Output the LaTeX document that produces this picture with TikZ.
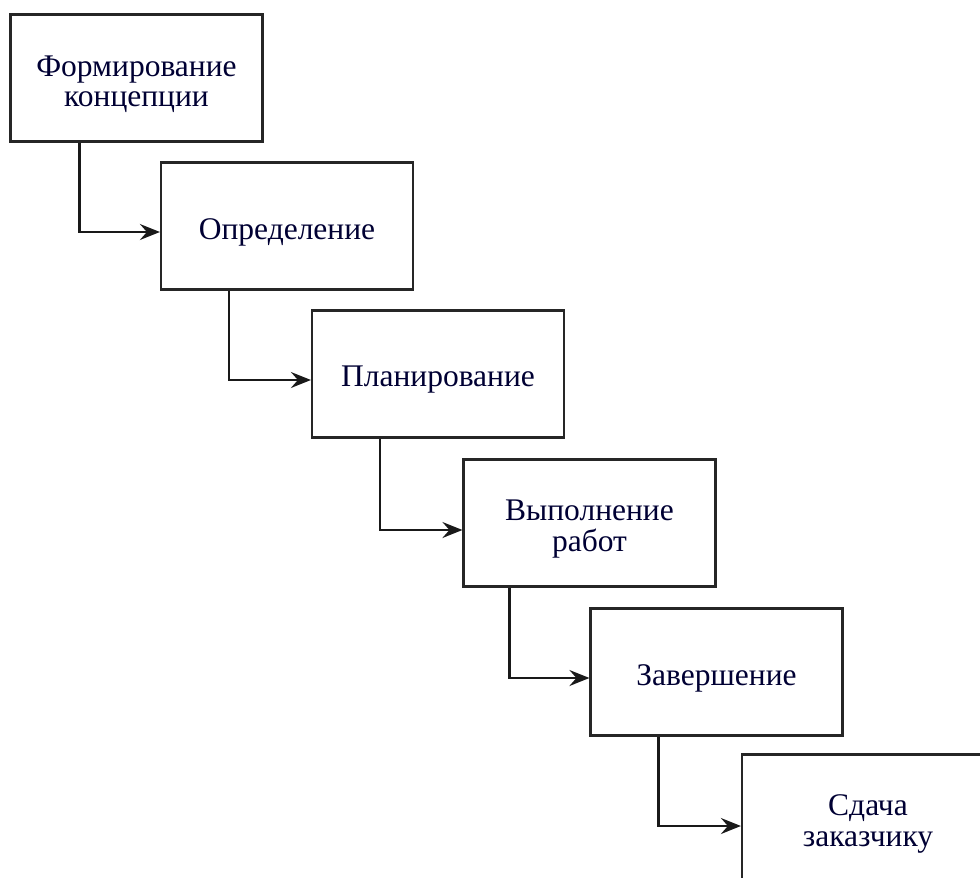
\documentclass[tikz,border=0pt]{standalone}
\usepackage{fontspec}
\setmainfont{Liberation Serif}
\usetikzlibrary{arrows.meta}
\begin{document}
\begin{tikzpicture}[x=1pt,y=-1pt,
  stage/.style={draw=black!85, line width=2.2pt, minimum width=252pt, minimum height=127pt,
    inner sep=0pt,
    label={[align=center, font=\fontsize{31.5}{30.5}\selectfont, text=black!80!blue, yshift=-6pt]center:#1}},
  link/.style={draw=black!90, line width=2.2pt, arrows={-Stealth[length=20pt,width=16pt,inset=7pt]}}]
\useasboundingbox (0,0) rectangle (980,878);
\clip (0,0) rectangle (980,878);
\node[stage={Формирование\\концепции}] (s1) at (136.5,78) {};
\node[stage={Определение}] (s2) at (287,226) {};
\node[stage={Планирование}] (s3) at (438,374) {};
\node[stage={Выполнение\\работ}] (s4) at (589.5,523) {};
\node[stage={Завершение}] (s5) at (716.5,672) {};
\node[stage={Сдача\\заказчику}] (s6) at (868,818) {};
\path (s1.south west) ++(70,0) coordinate (c1);
\path (s2.south west) ++(69,0) coordinate (c2);
\path (s3.south west) ++(69,0) coordinate (c3);
\path (s4.south west) ++(47,0) coordinate (c4);
\path (s5.south west) ++(69,0) coordinate (c5);
\draw[link] (c1) |- ([yshift=-6pt]s2.west);
\draw[link] (c2) |- ([yshift=-6pt]s3.west);
\draw[link] (c3) |- ([yshift=-7pt]s4.west);
\draw[link] (c4) |- ([yshift=-6pt]s5.west);
\draw[link] (c5) |- ([yshift=-8pt]s6.west);
\end{tikzpicture}
\end{document}
